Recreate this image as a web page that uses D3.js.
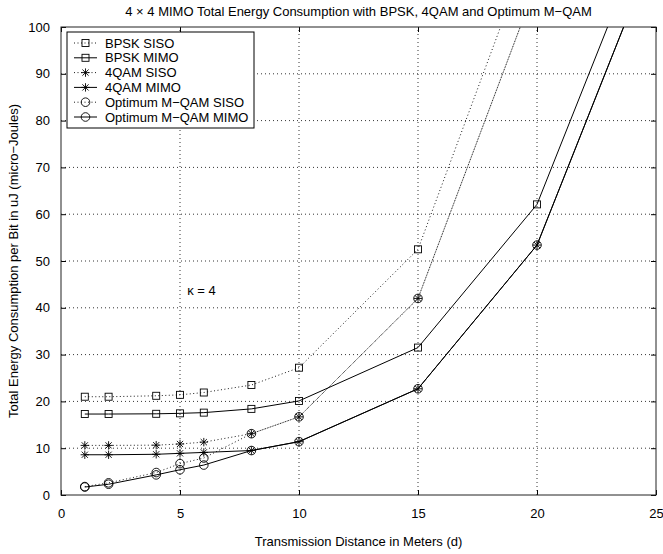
<!DOCTYPE html>
<html>
<head>
<meta charset="utf-8">
<script src="https://cdn.jsdelivr.net/npm/d3@7"></script>
<style>
	body { margin: 0; background: #fff; }
	svg { font-family: "Liberation Sans", Arial, sans-serif; }
	.tick-label { font-size: 13px; fill: #000; }
	.grid line { stroke: #000; stroke-width: 0.8; stroke-dasharray: 1, 3; }
</style>
</head>
<body>
<svg id="chart" width="663" height="554"></svg>
<script>
// transmission distance in meters
const distance = [1, 2, 4, 5, 6, 8, 10, 15, 20, 25];

// energy per bit in uJ (values > 100 run off the top)
const bpskSiso = [21.0, 21.0, 21.2, 21.4, 21.9, 23.5, 27.2, 52.5, 121];
const bpskMimo = [17.3, 17.3, 17.35, 17.45, 17.6, 18.4, 20.1, 31.5, 62.1, 126];
const qam4Siso = [10.6, 10.6, 10.65, 10.9, 11.3, 13.1, 16.7, 42.0, 109.5];
const qam4Mimo = [8.6, 8.6, 8.7, 8.9, 9.1, 9.5, 11.4, 22.7, 53.4, 117.4];
const optSiso = [1.8, 2.6, 4.8, 6.7, 7.9, 13.1, 16.7, 42.0, 109.5];
const optMimo = [1.7, 2.3, 4.3, 5.4, 6.4, 9.5, 11.4, 22.7, 53.4, 117.4];

const xTicks = [0, 5, 10, 15, 20, 25];
const yTicks = [0, 10, 20, 30, 40, 50, 60, 70, 80, 90, 100];

const series = [
	{ name: "BPSK SISO", values: bpskSiso, marker: "square", dotted: true },
	{ name: "BPSK MIMO", values: bpskMimo, marker: "square", dotted: false },
	{ name: "4QAM SISO", values: qam4Siso, marker: "star", dotted: true },
	{ name: "4QAM MIMO", values: qam4Mimo, marker: "star", dotted: false },
	{ name: "Optimum M\u2212QAM SISO", values: optSiso, marker: "circle", dotted: true },
	{ name: "Optimum M\u2212QAM MIMO", values: optMimo, marker: "circle", dotted: false },
];

const margin = { left: 61, right: 7, top: 27, bottom: 59 };
const width = 663, height = 554;

const svg = d3.select("svg#chart");

const x = d3.scaleLinear().domain([0, 25]).range([margin.left, width - margin.right]);
const y = d3.scaleLinear().domain([0, 100]).range([height - margin.bottom, margin.top]);

svg.append("defs")
	.append("clipPath")
	.attr("id", "plot-clip")
	.append("rect")
	.attr("x", x(0))
	.attr("y", y(100))
	.attr("width", x(25) - x(0))
	.attr("height", y(0) - y(100));

// dotted grid
const grid = svg.append("g").classed("grid", true);
grid.selectAll("line.vx")
	.data(xTicks.filter((d) => d > 0 && d < 25))
	.join("line")
	.attr("x1", (d) => x(d)).attr("x2", (d) => x(d))
	.attr("y1", y(0)).attr("y2", y(100));
grid.selectAll("line.hy")
	.data(yTicks.filter((d) => d > 0 && d < 100))
	.join("line")
	.attr("x1", x(0)).attr("x2", x(25))
	.attr("y1", (d) => y(d)).attr("y2", (d) => y(d));

// axes: matlab style, ticks pointing inwards on all four sides
svg.append("g")
	.attr("transform", `translate(0, ${y(0)})`)
	.call(d3.axisBottom(x).tickValues(xTicks).tickSize(-5).tickPadding(14))
	.call((g) => g.select(".domain").remove());
svg.append("g")
	.attr("transform", `translate(0, ${y(100)})`)
	.call(d3.axisTop(x).tickValues(xTicks).tickSize(-5).tickFormat(""))
	.call((g) => g.select(".domain").remove());
svg.append("g")
	.attr("transform", `translate(${x(0)}, 0)`)
	.call(d3.axisLeft(y).tickValues(yTicks).tickSize(-5).tickPadding(11))
	.call((g) => g.select(".domain").remove());
svg.append("g")
	.attr("transform", `translate(${x(25)}, 0)`)
	.call(d3.axisRight(y).tickValues(yTicks).tickSize(-5).tickFormat(""))
	.call((g) => g.select(".domain").remove());

svg.selectAll(".tick text").classed("tick-label", true).attr("font-size", null).attr("font-family", null);
svg.selectAll(".tick line").attr("stroke", "#000");

svg.append("rect")
	.attr("x", x(0)).attr("y", y(100))
	.attr("width", x(25) - x(0)).attr("height", y(0) - y(100))
	.attr("fill", "none")
	.attr("stroke", "#222")
	.attr("stroke-width", 1);

// markers
function drawMarker(g, type, cx, cy) {
	if (type === "square") {
		g.append("rect")
			.attr("x", cx - 3.5).attr("y", cy - 3.5)
			.attr("width", 7).attr("height", 7)
			.attr("fill", "none").attr("stroke", "#000").attr("stroke-width", 0.9);
	} else if (type === "circle") {
		g.append("circle")
			.attr("cx", cx).attr("cy", cy).attr("r", 4.3)
			.attr("fill", "none").attr("stroke", "#000").attr("stroke-width", 0.9);
	} else {
		const r = 4.2, d = 3.1;
		const segs = [
			[cx - r, cy, cx + r, cy],
			[cx, cy - r, cx, cy + r],
			[cx - d, cy - d, cx + d, cy + d],
			[cx - d, cy + d, cx + d, cy - d],
		];
		segs.forEach((s) => {
			g.append("line")
				.attr("x1", s[0]).attr("y1", s[1]).attr("x2", s[2]).attr("y2", s[3])
				.attr("stroke", "#000").attr("stroke-width", 0.9);
		});
	}
}

const line = d3.line()
	.x((d) => x(d[0]))
	.y((d) => y(d[1]));

const plot = svg.append("g").attr("clip-path", "url(#plot-clip)");

series.forEach((s) => {
	const pts = s.values.map((v, i) => [distance[i], v]);
	plot.append("path")
		.datum(pts)
		.attr("d", line)
		.attr("fill", "none")
		.attr("stroke", "#000")
		.attr("stroke-width", s.dotted ? 0.9 : 1)
		.attr("stroke-dasharray", s.dotted ? "1,2.5" : null);
	const mg = plot.append("g");
	pts.filter((p) => p[1] <= 100).forEach((p) => drawMarker(mg, s.marker, x(p[0]), y(p[1])));
});

// legend
const legend = svg.append("g").attr("transform", "translate(67, 32)");
legend.append("rect")
	.attr("width", 187).attr("height", 96)
	.attr("fill", "#fff").attr("stroke", "#000").attr("stroke-width", 1);
series.forEach((s, i) => {
	const ly = 11 + i * 14.8;
	legend.append("line")
		.attr("x1", 7).attr("x2", 30).attr("y1", ly).attr("y2", ly)
		.attr("stroke", "#000").attr("stroke-width", s.dotted ? 0.9 : 1)
		.attr("stroke-dasharray", s.dotted ? "1,2.5" : null);
	drawMarker(legend, s.marker, 18.5, ly);
	legend.append("text")
		.attr("x", 38).attr("y", ly + 4.5)
		.attr("font-size", 13)
		.text(s.name);
});

// annotation
svg.append("text")
	.attr("x", x(5.3)).attr("y", y(42.7))
	.attr("font-size", 13)
	.text("\u03BA = 4");

// title and axis labels
svg.append("text")
	.attr("x", (x(0) + x(25)) / 2).attr("y", 16)
	.attr("text-anchor", "middle")
	.attr("font-size", 13)
	.text("4 \u00D7 4 MIMO Total Energy Consumption with BPSK, 4QAM and Optimum M\u2212QAM");
svg.append("text")
	.attr("x", (x(0) + x(25)) / 2).attr("y", 546)
	.attr("text-anchor", "middle")
	.attr("font-size", 13)
	.text("Transmission Distance in Meters (d)");
svg.append("text")
	.attr("transform", `translate(18, ${(y(0) + y(100)) / 2}) rotate(-90)`)
	.attr("text-anchor", "middle")
	.attr("font-size", 13)
	.text("Total Energy Consumption per Bit in uJ (micro\u2212Joules)");
</script>
</body>
</html>
